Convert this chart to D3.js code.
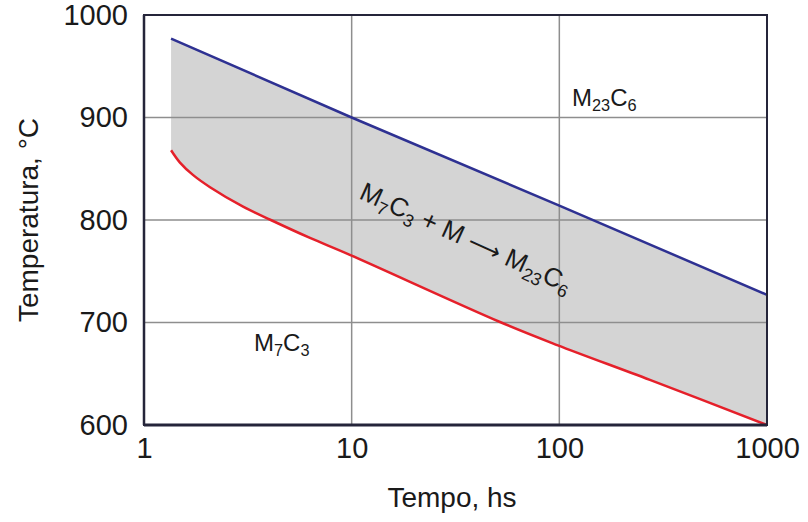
<!DOCTYPE html>
<html>
<head>
<meta charset="utf-8">
<script src="https://cdn.jsdelivr.net/npm/d3@7"></script>
<style>
  html, body { margin: 0; padding: 0; background: #fff; }
  svg { display: block; font-family: "Liberation Sans", Arial, sans-serif; }
</style>
</head>
<body>
<svg id="chart" width="808" height="522"></svg>
<script>
// ---- data ----
const xTicks = [1, 10, 100, 1000];
const yTicks = [600, 700, 800, 900, 1000];
// upper boundary (blue): [time h, temperature °C]
const blueTimes = [1.35, 10, 100, 1000];
const blueTemps = [977, 900, 814, 727];
// lower boundary (red)
const redTimes = [1.35, 1.49, 1.72, 2.08, 3.0, 4.08, 6.3, 9.8, 51.8, 97.7, 273, 1000];
const redTemps = [868, 856, 844, 832, 813, 800, 782.5, 766, 700.5, 678, 644, 600];

const xLabel = "Tempo, hs";
const yLabel = "Temperatura, °C";

// ---- layout ----
const svg = d3.select("#chart");
const L = 144, R = 767, T = 15, B = 425;

const x = d3.scaleLog().domain([1, 1000]).range([L, R]);
const y = d3.scaleLinear().domain([600, 1000]).range([B, T]);

const blue = blueTimes.map((t, i) => [t, blueTemps[i]]);
const red = redTimes.map((t, i) => [t, redTemps[i]]);

const lineLin = d3.line().x(d => x(d[0])).y(d => y(d[1]));
const lineCurve = d3.line().x(d => x(d[0])).y(d => y(d[1])).curve(d3.curveCatmullRom.alpha(0.5));

// fill band
const bandPath = lineLin(blue) + lineCurve(red.slice().reverse()).replace(/^M/, "L") + "Z";
svg.append("path").attr("d", bandPath).attr("fill", "#d4d4d4").attr("stroke", "none");

// gridlines
const grid = svg.append("g").attr("stroke", "#8e8e8e").attr("stroke-width", 1.5);
xTicks.slice(1, -1).forEach(t => {
  grid.append("line").attr("x1", x(t)).attr("x2", x(t)).attr("y1", T).attr("y2", B);
});
yTicks.slice(1, -1).forEach(v => {
  grid.append("line").attr("x1", L).attr("x2", R).attr("y1", y(v)).attr("y2", y(v));
});

// lines
svg.append("path").attr("d", lineLin(blue)).attr("fill", "none")
  .attr("stroke", "#2e3192").attr("stroke-width", 2.5);
svg.append("path").attr("d", lineCurve(red)).attr("fill", "none")
  .attr("stroke", "#e5202a").attr("stroke-width", 2.5);

// frame
svg.append("rect").attr("x", L).attr("y", T).attr("width", R - L).attr("height", B - T)
  .attr("fill", "none").attr("stroke", "#25253a").attr("stroke-width", 2);
svg.append("line").attr("x1", L).attr("x2", R).attr("y1", B).attr("y2", B)
  .attr("stroke", "#25253a").attr("stroke-width", 3);
svg.append("line").attr("x1", L).attr("x2", L).attr("y1", T).attr("y2", B)
  .attr("stroke", "#25253a").attr("stroke-width", 2.5);

// axes (labels only; lines drawn above)
const xAxis = d3.axisBottom(x).tickValues(xTicks).tickFormat(d3.format("d")).tickSize(0).tickPadding(12);
const gx = svg.append("g").attr("transform", `translate(0,${B})`).call(xAxis);
gx.select(".domain").remove();
gx.selectAll("text").attr("font-size", 29).attr("fill", "#1a1a1a").attr("font-family", "Liberation Sans, Arial, sans-serif");

const yAxis = d3.axisLeft(y).tickValues(yTicks).tickFormat(d3.format("d")).tickSize(0).tickPadding(16);
const gy = svg.append("g").attr("transform", `translate(${L},0)`).call(yAxis);
gy.select(".domain").remove();
gy.selectAll("text").attr("font-size", 29).attr("fill", "#1a1a1a").attr("font-family", "Liberation Sans, Arial, sans-serif");

// axis titles
svg.append("text").attr("x", 452).attr("y", 507).attr("text-anchor", "middle")
  .attr("font-size", 28).attr("fill", "#1a1a1a").text(xLabel);
svg.append("text").attr("transform", "translate(38,220) rotate(-90)").attr("text-anchor", "middle")
  .attr("font-size", 28).attr("fill", "#1a1a1a").text(yLabel);

// phase labels
function phase(g, parts, size) {
  const t = g.append("text").attr("font-size", size).attr("fill", "#1a1a1a");
  parts.forEach(p => {
    const s = t.append("tspan").text(p.t);
    if (p.sub) s.attr("font-size", size * 0.68).attr("dy", size * 0.22);
    else if (p.after) s.attr("dy", -size * 0.22);
    if (p.arrow) s.attr("font-family", "DejaVu Sans").attr("font-size", size * 0.9);
  });
  return t;
}
const g1 = svg.append("g").attr("transform", "translate(572,106)");
phase(g1, [{t: "M"}, {t: "23", sub: true}, {t: "C", after: true}, {t: "6", sub: true}], 24);

const g2 = svg.append("g").attr("transform", "translate(254,351)");
phase(g2, [{t: "M"}, {t: "7", sub: true}, {t: "C", after: true}, {t: "3", sub: true}], 24);

const g3 = svg.append("g").attr("transform", "translate(358,198) rotate(24.5)");
phase(g3, [{t: "M"}, {t: "7", sub: true}, {t: "C", after: true}, {t: "3", sub: true},
           {t: " + M ", after: true}, {t: "\u27F6", arrow: true}, {t: " M"}, {t: "23", sub: true}, {t: "C", after: true}, {t: "6", sub: true}], 26);
</script>
</body>
</html>
